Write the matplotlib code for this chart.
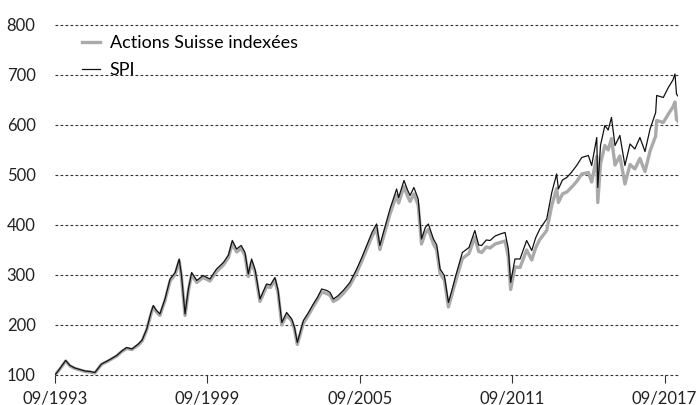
import matplotlib
matplotlib.use('Agg')
import matplotlib.pyplot as plt

# dates en années décimales
dates = [1993.67, 1993.85, 1994.09, 1994.26, 1994.45, 1994.65, 1994.85, 1995.05, 1995.24, 1995.5,
         1995.8, 1996.1, 1996.3, 1996.49, 1996.7, 1996.95, 1997.1, 1997.28, 1997.45, 1997.54,
         1997.65, 1997.8, 1998.0, 1998.2, 1998.4, 1998.56, 1998.65, 1998.79, 1998.92, 1999.05,
         1999.25, 1999.5, 1999.77, 2000.03, 2000.3, 2000.5, 2000.65, 2000.82, 2001.0, 2001.15,
         2001.28, 2001.41, 2001.55, 2001.74, 2002.0, 2002.15, 2002.33, 2002.45, 2002.6, 2002.79,
         2002.99, 2003.1, 2003.21, 2003.45, 2003.65, 2003.84, 2004.0, 2004.17, 2004.37, 2004.5,
         2004.63, 2004.8, 2005.02, 2005.28, 2005.55, 2005.75, 2005.94, 2006.15, 2006.33, 2006.46,
         2006.6, 2006.86, 2007.12, 2007.2, 2007.41, 2007.55, 2007.65, 2007.8, 2007.97, 2008.1,
         2008.25, 2008.37, 2008.57, 2008.7, 2008.83, 2009.0, 2009.16, 2009.3, 2009.45, 2009.71,
         2009.97, 2010.2, 2010.35, 2010.47, 2010.65, 2010.8, 2011.0, 2011.2, 2011.39, 2011.52,
         2011.61, 2011.7, 2011.78, 2011.98, 2012.24, 2012.44, 2012.6, 2012.76, 2013.03, 2013.23,
         2013.42, 2013.49, 2013.65, 2013.82, 2014.0, 2014.21, 2014.41, 2014.67, 2014.8, 2015.0,
         2015.04, 2015.15, 2015.32, 2015.45, 2015.58, 2015.72, 2015.91, 2016.11, 2016.31, 2016.5,
         2016.7, 2016.9, 2017.1, 2017.32, 2017.36, 2017.62, 2017.82, 2018.0, 2018.08, 2018.14,
         2018.24]

spi = [100, 112, 129, 119, 114, 111, 108, 107, 105, 122,
       130, 139, 148, 155, 152, 162, 170, 192, 225, 239,
       230, 222, 252, 292, 305, 332, 299, 222, 272, 305,
       289, 299, 292, 312, 325, 340, 369, 352, 359, 345,
       302, 332, 310, 252, 282, 280, 295, 270, 205, 225,
       212, 195, 165, 209, 225, 242, 255, 272, 269, 265,
       252, 258, 269, 285, 312, 335, 359, 385, 402, 359,
       385, 432, 472, 455, 489, 470, 459, 475, 452, 372,
       395, 402, 372, 360, 312, 299, 245, 270, 299, 345,
       355, 389, 360, 359, 370, 369, 378, 382, 385, 352,
       285, 310, 332, 332, 369, 349, 375, 392, 412, 465,
       502, 472, 490, 495, 505, 519, 535, 539, 519, 575,
       475, 560, 599, 590, 615, 559, 579, 519, 562, 552,
       575, 547, 592, 625, 659, 655, 675, 690, 702, 662,
       655]

actions_suisse = [100, 111, 128, 118, 113, 110, 107, 106, 104, 121,
                  129, 138, 147, 153, 151, 160, 168, 190, 222, 236,
                  227, 219, 249, 288, 301, 328, 295, 219, 268, 301,
                  285, 295, 288, 307, 320, 335, 363, 346, 353, 339,
                  297, 326, 305, 247, 277, 275, 290, 265, 200, 220,
                  208, 191, 161, 204, 220, 237, 250, 266, 263, 259,
                  247, 252, 263, 279, 305, 328, 351, 377, 393, 351,
                  376, 422, 460, 444, 477, 458, 447, 462, 440, 362,
                  384, 391, 362, 350, 303, 290, 236, 261, 289, 333,
                  343, 376, 347, 345, 356, 354, 362, 365, 368, 336,
                  271, 295, 316, 315, 350, 330, 355, 371, 389, 439,
                  473, 445, 462, 466, 475, 487, 502, 505, 486, 537,
                  445, 523, 559, 550, 573, 520, 538, 482, 521, 512,
                  533, 507, 548, 578, 609, 605, 622, 636, 646, 611,
                  605]

tick_pos = [1993.67, 1999.67, 2005.67, 2011.67, 2017.67]
tick_labels = ['09/1993', '09/1999', '09/2005', '09/2011', '09/2017']

plt.rcParams['font.family'] = ['Lato', 'DejaVu Sans']

fig = plt.figure(figsize=(7, 4.05), dpi=100)
ax = fig.add_axes([0.0786, 0.0741, 0.89, 0.8642])

ax.plot(dates, actions_suisse, color='#aaaaaa', lw=2.4, label='Actions Suisse indexées', zorder=3)
ax.plot(dates, spi, color='#111111', lw=0.9, label='SPI', zorder=4)

ax.set_xlim(1993.67, 2018.2)
ax.set_ylim(100, 800)
ax.set_yticks(range(100, 801, 100))
for v in range(100, 801, 100):
    ax.axhline(v, color='#333333', lw=0.8, ls=(0, (2.5, 2)), zorder=1, clip_on=False)

ax.set_xticks(tick_pos)
ax.set_xticklabels(tick_labels)
for s in ax.spines.values():
    s.set_visible(False)
ax.tick_params(axis='x', length=6, width=0.8, color='#333333', labelsize=12, labelcolor='#222222', pad=5)
ax.tick_params(axis='y', length=0, labelsize=12, labelcolor='#222222', pad=14)

leg = ax.legend(loc='upper left', bbox_to_anchor=(0.02, 1.012), frameon=False, fontsize=13,
                handlelength=1.0, handletextpad=0.55, labelspacing=0.6, borderpad=0.3)

fig.savefig('out.png', dpi=100)
